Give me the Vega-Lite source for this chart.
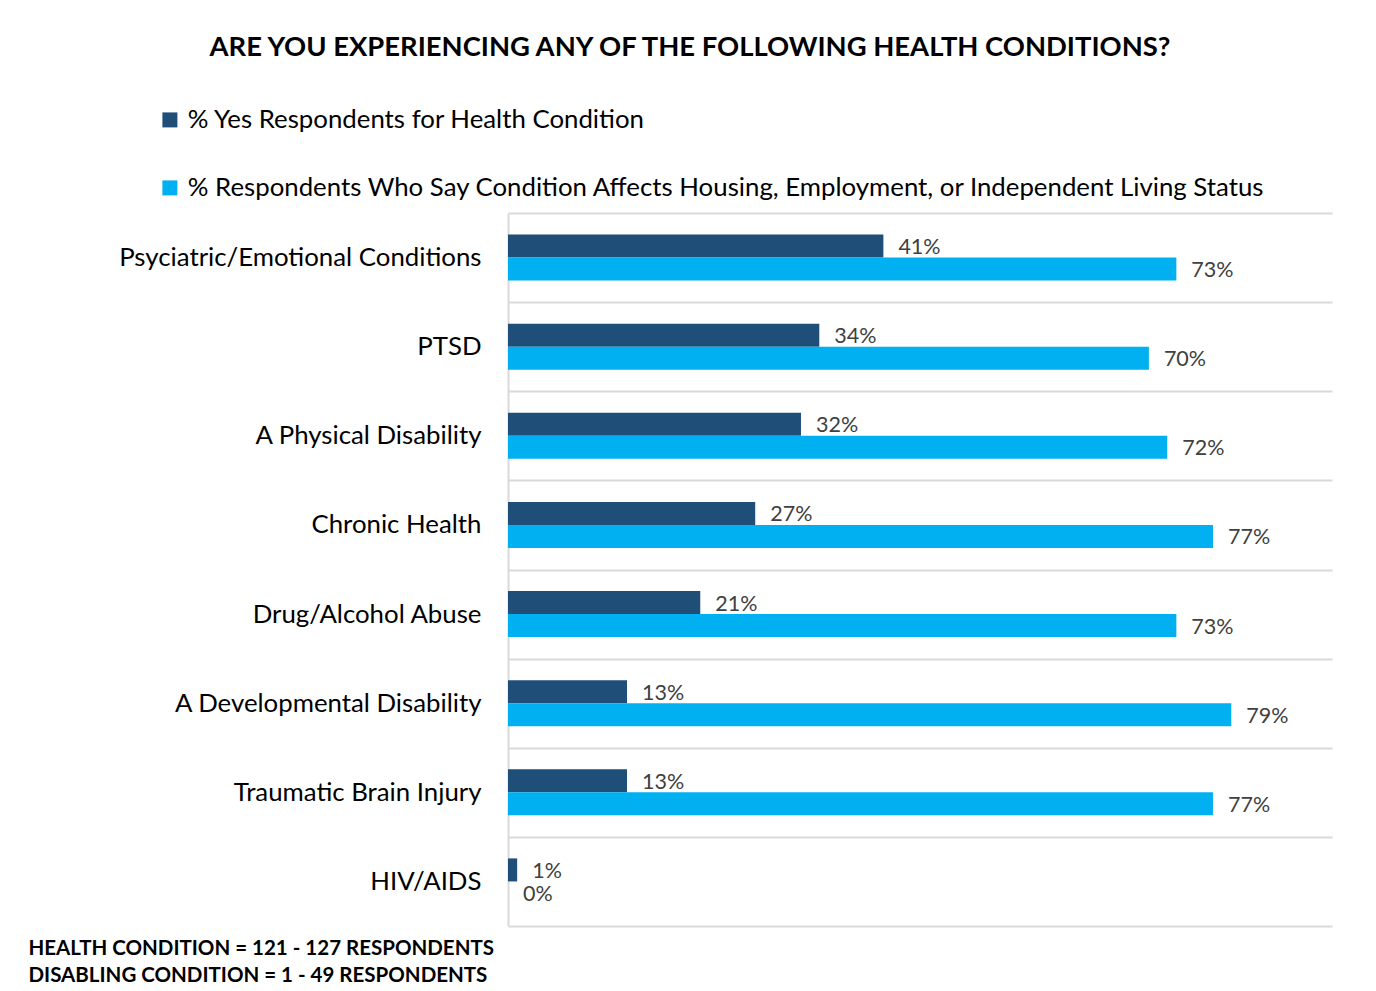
{
  "$schema": "https://vega.github.io/schema/vega-lite/v6.json",
  "width": 824,
  "height": 713,
  "autosize": {"type": "none"},
  "padding": {"left": 508, "top": 213, "right": 44, "bottom": 65},
  "background": "white",
  "config": {
    "font": "Lato",
    "view": {"stroke": null}
  },
  "title": {
    "text": "ARE YOU EXPERIENCING ANY OF THE FOLLOWING HEALTH CONDITIONS?",
    "anchor": "middle",
    "frame": "group",
    "dx": -230,
    "fontSize": 27.4,
    "fontWeight": "bold",
    "color": "#000000",
    "font": "Lato",
    "offset": 46
  },
  "data": {
    "values": [
      {"condition": "Psyciatric/Emotional Conditions", "series": "% Yes Respondents for Health Condition", "value": 0.41},
      {"condition": "Psyciatric/Emotional Conditions", "series": "% Respondents Who Say Condition Affects Housing, Employment, or Independent Living Status", "value": 0.73},
      {"condition": "PTSD", "series": "% Yes Respondents for Health Condition", "value": 0.34},
      {"condition": "PTSD", "series": "% Respondents Who Say Condition Affects Housing, Employment, or Independent Living Status", "value": 0.70},
      {"condition": "A Physical Disability", "series": "% Yes Respondents for Health Condition", "value": 0.32},
      {"condition": "A Physical Disability", "series": "% Respondents Who Say Condition Affects Housing, Employment, or Independent Living Status", "value": 0.72},
      {"condition": "Chronic Health", "series": "% Yes Respondents for Health Condition", "value": 0.27},
      {"condition": "Chronic Health", "series": "% Respondents Who Say Condition Affects Housing, Employment, or Independent Living Status", "value": 0.77},
      {"condition": "Drug/Alcohol Abuse", "series": "% Yes Respondents for Health Condition", "value": 0.21},
      {"condition": "Drug/Alcohol Abuse", "series": "% Respondents Who Say Condition Affects Housing, Employment, or Independent Living Status", "value": 0.73},
      {"condition": "A Developmental Disability", "series": "% Yes Respondents for Health Condition", "value": 0.13},
      {"condition": "A Developmental Disability", "series": "% Respondents Who Say Condition Affects Housing, Employment, or Independent Living Status", "value": 0.79},
      {"condition": "Traumatic Brain Injury", "series": "% Yes Respondents for Health Condition", "value": 0.13},
      {"condition": "Traumatic Brain Injury", "series": "% Respondents Who Say Condition Affects Housing, Employment, or Independent Living Status", "value": 0.77},
      {"condition": "HIV/AIDS", "series": "% Yes Respondents for Health Condition", "value": 0.01},
      {"condition": "HIV/AIDS", "series": "% Respondents Who Say Condition Affects Housing, Employment, or Independent Living Status", "value": 0.0}
    ]
  },
  "encoding": {
    "y": {
      "field": "condition",
      "type": "nominal",
      "sort": null,
      "scale": {"paddingInner": 0, "paddingOuter": 0},
      "axis": {
        "title": null,
        "tickBand": "extent",
        "ticks": false,
        "grid": true,
        "gridColor": "#D9D9D9",
        "gridWidth": 2,
        "domain": true,
        "domainColor": "#D9D9D9",
        "domainWidth": 2,
        "labelFontSize": 25.8,
        "labelColor": "#000000",
        "labelPadding": 27,
        "labelLimit": 500
      }
    },
    "yOffset": {
      "field": "series",
      "type": "nominal",
      "sort": ["% Yes Respondents for Health Condition", "% Respondents Who Say Condition Affects Housing, Employment, or Independent Living Status"],
      "scale": {"paddingInner": 0, "paddingOuter": 0.935}
    },
    "x": {
      "field": "value",
      "type": "quantitative",
      "scale": {"domain": [0, 0.9], "nice": false, "zero": true},
      "axis": {
        "labels": false,
        "ticks": false,
        "domain": false,
        "grid": false,
        "title": ["HEALTH CONDITION = 121 - 127 RESPONDENTS", "DISABLING CONDITION = 1 - 49 RESPONDENTS"],
        "titleX": -480,
        "titleY": 22,
        "titleAlign": "left",
        "titleBaseline": "middle",
        "titleFontSize": 20.5,
        "titleFontWeight": "bold",
        "titleColor": "#000000",
        "titleLineHeight": 27
      }
    }
  },
  "layer": [
    {
      "mark": {"type": "bar"},
      "encoding": {
        "color": {
          "field": "series",
          "type": "nominal",
          "sort": ["% Yes Respondents for Health Condition", "% Respondents Who Say Condition Affects Housing, Employment, or Independent Living Status"],
          "scale": {
            "domain": ["% Yes Respondents for Health Condition", "% Respondents Who Say Condition Affects Housing, Employment, or Independent Living Status"],
            "range": ["#1F4E79", "#00B0F0"]
          },
          "legend": {
            "title": null,
            "orient": "none",
            "legendX": -351,
            "legendY": -106,
            "direction": "vertical",
            "symbolType": "square",
            "symbolSize": 225,
            "symbolStrokeWidth": 0,
            "labelFontSize": 25.8,
            "labelColor": "#000000",
            "labelOffset": 5,
            "labelLimit": 1200,
            "rowPadding": 41
          }
        }
      }
    },
    {
      "mark": {"type": "text", "align": "left", "baseline": "middle", "dx": 15, "dy": 2, "fontSize": 21.5, "color": "#404040"},
      "encoding": {
        "text": {"field": "value", "type": "quantitative", "format": ".0%"}
      }
    }
  ]
}
